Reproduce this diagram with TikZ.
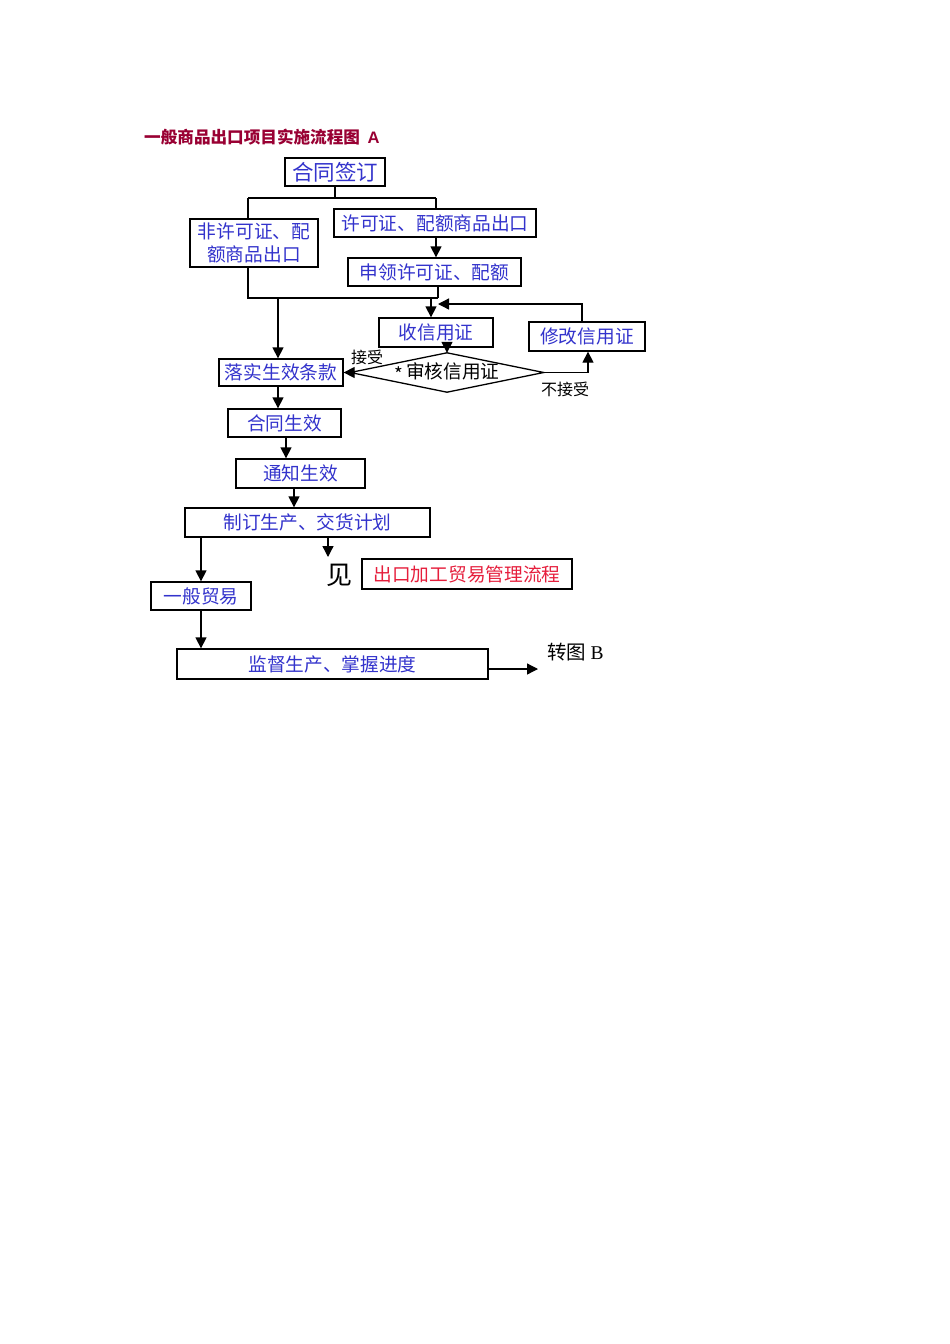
\documentclass[tikz,border=0pt]{standalone}
\usepackage{fontspec}
\newfontfamily\cjk{Noto Sans CJK SC}
\newfontfamily\serifB{Liberation Serif}
\usetikzlibrary{shapes.geometric,arrows.meta}
\definecolor{boxblue}{RGB}{51,51,204}
\definecolor{titlered}{RGB}{153,0,51}
\definecolor{linkred}{RGB}{230,30,60}
\tikzset{
  box/.style={draw=black,line width=1.3pt,rectangle,inner sep=0pt,text=boxblue,font=\cjk\fontsize{18.7}{22}\selectfont,align=center},
  conn/.style={line width=1.3pt,draw=black},
  arr/.style={conn,-{Triangle[width=11pt,length=11pt]}},
  lbl/.style={inner sep=0pt,text=black,font=\cjk\fontsize{16}{18}\selectfont}
}
\begin{document}
\begin{tikzpicture}[x=1pt,y=-1pt]
\useasboundingbox[fill=white] (0,0) rectangle (950,1344);
\node[anchor=west,inner sep=0pt,text=titlered,font=\cjk\bfseries\fontsize{16.6}{18}\selectfont] (title) at (144,137) {一般商品出口项目实施流程图\ \ {\fontspec{Liberation Sans}\bfseries A}};
\node[box,minimum width=100,minimum height=28,font=\cjk\fontsize{21.5}{24}\selectfont] (hetong) at (335,172) {合同签订};
\node[box,minimum width=128,minimum height=48,font=\cjk\fontsize{18.7}{23}\selectfont] (fei) at (254,243) {非许可证、配\\额商品出口};
\node[box,minimum width=202,minimum height=28] (xuke) at (435,223) {许可证、配额商品出口};
\node[box,minimum width=173,minimum height=28] (shenling) at (434.5,272) {申领许可证、配额};
\node[box,minimum width=114,minimum height=29] (shou) at (436,332.5) {收信用证};
\node[box,minimum width=116,minimum height=29] (xiugai) at (587,336.5) {修改信用证};
\node[rectangle,inner sep=0pt,minimum width=193,minimum height=39,text=black,font=\cjk\fontsize{18.7}{22}\selectfont] (shenhe) at (447,372.5) {\raisebox{-3pt}{*}\,审核信用证};
\draw[conn] (shenhe.west) -- (shenhe.north) -- (shenhe.east) -- (shenhe.south) -- cycle;
\node[box,minimum width=124,minimum height=27] (luoshi) at (281,372.5) {落实生效条款};
\node[box,minimum width=113,minimum height=28] (hetongsx) at (284.5,423) {合同生效};
\node[box,minimum width=129,minimum height=29] (tongzhi) at (300.5,473.5) {通知生效};
\node[box,minimum width=245,minimum height=29] (zhiding) at (307.5,522.5) {制订生产、交货计划};
\node[box,minimum width=100,minimum height=28] (yiban) at (201,596) {一般贸易};
\node[box,minimum width=311,minimum height=30] (jiandu) at (332.5,664) {监督生产、掌握进度};
\node[box,minimum width=210,minimum height=30,text=linkred] (chukou) at (467,574) {出口加工贸易管理流程};
\node[inner sep=0pt,font=\cjk\fontsize{26}{28}\selectfont] (jian) at (339,575) {见};
\node[anchor=west,inner sep=0pt,font=\cjk\fontsize{19.5}{22}\selectfont] (zhuan) at (547,652) {转图 {\serifB B}};
\node[lbl] (jieshou) at (367,357) {接受};
\node[lbl] (bujieshou) at (565,389) {不接受};
% coordinates
\coordinate (bl) at (248,198);
\coordinate (br) at (436,198);
\coordinate (ml) at (248,298);
\coordinate (mr) at (438,298);
\coordinate (mj) at (278,298);
\coordinate (mk) at (431,298);
\coordinate (rt) at (438,304);
\coordinate (jf) at (328,557);
\coordinate (zb) at (538,669);
% connectors
\draw[conn] (hetong.south) -- (hetong.south |- bl);
\draw[conn] (bl) -- (br);
\draw[conn] (bl) -- (bl |- fei.north);
\draw[conn] (br) -- (br |- xuke.north);
\draw[arr] (br |- xuke.south) -- (br |- shenling.north);
\draw[conn] (ml |- fei.south) -- (ml) -- (mr);
\draw[conn] (mr |- shenling.south) -- (mr);
\draw[arr] (mj) -- (mj |- luoshi.north);
\draw[arr] (mk) -- (mk |- shou.north);
\draw[arr] ([xshift=-5]xiugai.north) |- (rt);
\draw[arr] (shenhe.north |- shou.south) -- (shenhe.north);
\draw[arr] (shenhe.east) -| ([xshift=1]xiugai.south);
\draw[arr] (shenhe.west) -- (luoshi.east);
\draw[arr] (mj |- luoshi.south) -- (mj |- hetongsx.north);
\draw[arr] ([xshift=1.5]hetongsx.south) -- ([xshift=1.5]hetongsx.south |- tongzhi.north);
\draw[arr] ([xshift=-6.5]tongzhi.south) -- ([xshift=-6.5]tongzhi.south |- zhiding.north);
\draw[arr] (yiban.north |- zhiding.south) -- (yiban.north);
\draw[arr] (jf |- zhiding.south) -- (jf);
\draw[arr] (yiban.south) -- (yiban.south |- jiandu.north);
\draw[arr] (jiandu.east |- zb) -- (zb);
\end{tikzpicture}
\end{document}
